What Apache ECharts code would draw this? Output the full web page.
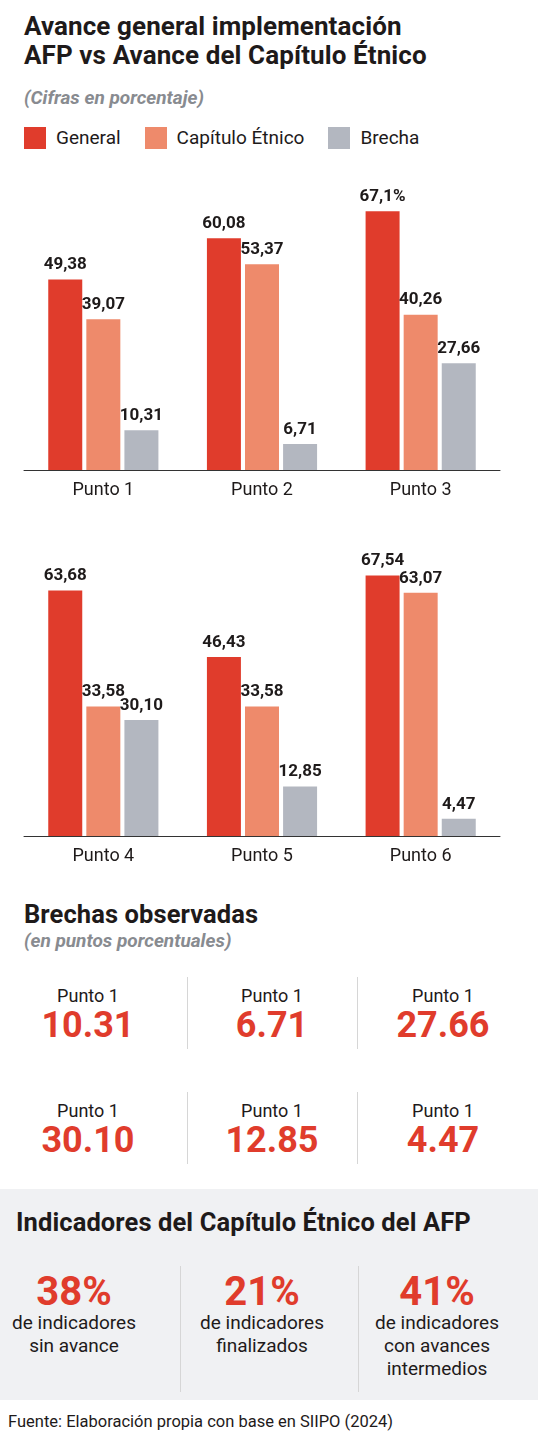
<!DOCTYPE html>
<html lang="es">
<head>
<meta charset="UTF-8">
<title>Avance general implementación AFP vs Avance del Capítulo Étnico</title>
<script src="https://cdn.jsdelivr.net/npm/echarts@6/dist/echarts.min.js"></script>
<style>
  body { margin: 0; width: 538px; height: 1444px; position: relative; background: #fff;
         font-family: Roboto, "Noto Sans", sans-serif; color: #1e1a1a; overflow: hidden; }
  .abs { position: absolute; }
  h1 { position: absolute; left: 24px; top: 12px; margin: 0; font-size: 26px; line-height: 29px; font-weight: 700; letter-spacing: 0.1px; }
  .sub { font-style: italic; font-weight: 700; color: #888b90; font-size: 19px; }
  .legend { left: 24px; top: 126px; font-size: 19px; display: flex; align-items: center; }
  .legend i { display: inline-block; width: 22px; height: 22px; margin-right: 10px; }
  .legend span { margin-right: 24px; display: flex; align-items: center; }
  #chart { position: absolute; left: 0; top: 160px; width: 538px; height: 720px; }
  h2 { position: absolute; margin: 0; font-size: 25.5px; font-weight: 700; letter-spacing: 0.1px; }
  .cell { position: absolute; text-align: center; width: 170px; }
  .cell .l { font-size: 18px; }
  .cell .n { font-size: 36px; font-weight: 700; color: #e03c2c; line-height: 38px; }
  .vline { position: absolute; width: 1px; background: #d6d6d6; }
  #box { position: absolute; left: 0; top: 1189px; width: 538px; height: 211px; background: #f0f1f3; }
  .ind { position: absolute; text-align: center; width: 180px; font-size: 19px; line-height: 23px; }
  .ind b { display: block; font-size: 40px; color: #e03c2c; line-height: 38px; }
</style>
</head>
<body>
<h1>Avance general implementación<br>AFP vs Avance del Capítulo Étnico</h1>
<div class="abs sub" style="left:24px;top:86px;">(Cifras en porcentaje)</div>
<div class="abs legend">
  <span><i style="background:#e03c2c"></i>General</span>
  <span><i style="background:#ee8a6b"></i>Capítulo Étnico</span>
  <span><i style="background:#b3b7c0"></i>Brecha</span>
</div>
<div id="chart"></div>

<h2 style="left:24px;top:899px;">Brechas observadas</h2>
<div class="abs sub" style="left:24px;top:929px;">(en puntos porcentuales)</div>
<div id="gaps"></div>

<div id="box">
  <h2 style="left:16px;top:18px;">Indicadores del Capítulo Étnico del AFP</h2>
  <div class="vline" style="left:180px;top:77px;height:126px;"></div>
  <div class="vline" style="left:358px;top:77px;height:126px;"></div>
  <div id="inds"></div>
</div>
<div class="abs" style="left:8px;top:1412px;font-size:16.5px;">Fuente: Elaboración propia con base en SIIPO (2024)</div>

<script>
// datos
const categoriesTop = ['Punto 1', 'Punto 2', 'Punto 3'];
const categoriesBottom = ['Punto 4', 'Punto 5', 'Punto 6'];
const general = [49.38, 60.08, 67.1, 63.68, 46.43, 67.54];
const generalLabels = ['49,38', '60,08', '67,1%', '63,68', '46,43', '67,54'];
const etnico = [39.07, 53.37, 40.26, 33.58, 33.58, 63.07];
const etnicoLabels = ['39,07', '53,37', '40,26', '33,58', '33,58', '63,07'];
const brecha = [10.31, 6.71, 27.66, 30.10, 12.85, 4.47];
const brechaLabels = ['10,31', '6,71', '27,66', '30,10', '12,85', '4,47'];
const gapTitles = ['Punto 1', 'Punto 1', 'Punto 1', 'Punto 1', 'Punto 1', 'Punto 1'];
const gapValues = ['10.31', '6.71', '27.66', '30.10', '12.85', '4.47'];
const indPct = ['38%', '21%', '41%'];
const indText = ['de indicadores<br>sin avance', 'de indicadores<br>finalizados', 'de indicadores<br>con avances<br>intermedios'];

const colors = ['#e03c2c', '#ee8a6b', '#b3b7c0'];

const chart = echarts.init(document.getElementById('chart'));

function mkSeries(values, labels, color, idx, from) {
  return {
    type: 'bar', xAxisIndex: idx, yAxisIndex: idx,
    data: values.slice(from, from + 3).map((v, i) => ({ value: v, label: { formatter: labels[from + i] } })),
    barWidth: 34, barGap: '12%',
    itemStyle: { color: color },
    label: { show: true, position: 'top', distance: 6, color: '#1e1a1a', fontSize: 17, fontWeight: 'bold', fontFamily: 'Roboto' },
    animation: false
  };
}

const axisX = cats => ({
  type: 'category', data: cats,
  axisLine: { lineStyle: { color: '#333', width: 1 } },
  axisTick: { show: false },
  axisLabel: { color: '#1e1a1a', fontSize: 18, margin: 11, fontFamily: 'Roboto' }
});
const axisY = { type: 'value', min: 0, max: 76.5, show: false, splitLine: { show: false } };

chart.setOption({
  grid: [
    { left: 24, right: 38, top: 15, height: 295 },
    { left: 24, right: 38, top: 381, height: 295 }
  ],
  xAxis: [Object.assign({ gridIndex: 0 }, axisX(categoriesTop)), Object.assign({ gridIndex: 1 }, axisX(categoriesBottom))],
  yAxis: [Object.assign({ gridIndex: 0 }, axisY), Object.assign({ gridIndex: 1 }, axisY)],
  series: [
    mkSeries(general, generalLabels, colors[0], 0, 0),
    mkSeries(etnico, etnicoLabels, colors[1], 0, 0),
    mkSeries(brecha, brechaLabels, colors[2], 0, 0),
    mkSeries(general, generalLabels, colors[0], 1, 3),
    mkSeries(etnico, etnicoLabels, colors[1], 1, 3),
    mkSeries(brecha, brechaLabels, colors[2], 1, 3)
  ]
});

// brechas observadas
const colX = [88, 272, 443];
const rowY = [985, 1100];
let html = '';
gapValues.forEach((v, i) => {
  const c = i % 3, r = Math.floor(i / 3);
  html += `<div class="cell" style="left:${colX[c] - 85}px;top:${rowY[r]}px;"><div class="l">${gapTitles[i]}</div><div class="n">${v}</div></div>`;
});
[187, 357].forEach(x => rowY.forEach(y => {
  html += `<div class="vline" style="left:${x}px;top:${y - 8}px;height:72px;"></div>`;
}));
document.getElementById('gaps').innerHTML = html;

// indicadores
const indX = [74, 262, 437];
document.getElementById('inds').innerHTML = indPct.map((p, i) =>
  `<div class="ind" style="left:${indX[i] - 90}px;top:84px;"><b>${p}</b>${indText[i]}</div>`).join('');
</script>
</body>
</html>
